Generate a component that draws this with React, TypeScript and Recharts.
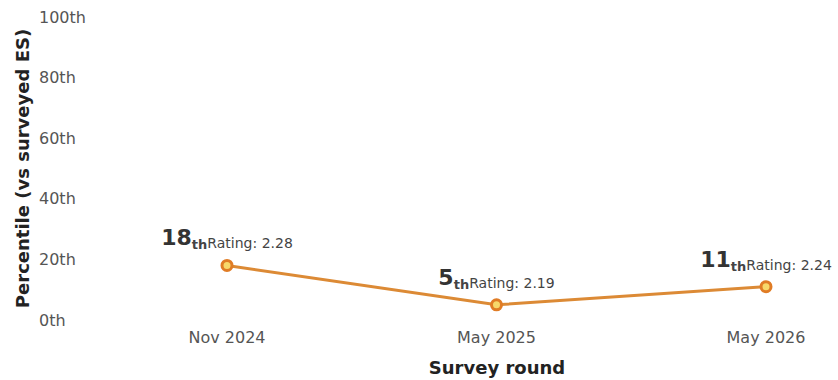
import React from "react";
import { LineChart, Line, XAxis, YAxis, LabelList } from "recharts";

const rounds = ["Nov 2024", "May 2025", "May 2026"];
const percentiles = [18, 5, 11];
const ratings = ["2.28", "2.19", "2.24"];
const yTicks = [0, 20, 40, 60, 80, 100];

const data = rounds.map((r, i) => ({ round: r, pct: percentiles[i], rating: ratings[i] }));

const FONT = "'DejaVu Sans', sans-serif";

const YTick = (props: any) => {
  const { x, y, payload } = props;
  return (
    <text x={x - 43} y={y} dy="0.35em" textAnchor="start" fontFamily={FONT} fontSize={16} fill="#555">
      {payload.value}th
    </text>
  );
};

const XTick = (props: any) => {
  const { x, y, payload } = props;
  return (
    <text x={x} y={y} dy="0.71em" textAnchor="middle" fontFamily={FONT} fontSize={16} fill="#555">
      {payload.value}
    </text>
  );
};

const PointLabel = (props: any) => {
  const { x, y, index } = props;
  const d = data[index];
  return (
    <text x={x} y={y - 20} textAnchor="middle" fontFamily={FONT} fill="#444">
      <tspan fontSize={22} fontWeight="bold" fill="#333">{d.pct}</tspan>
      <tspan fontSize={13} fontWeight="bold" dy={4}>th</tspan>
      <tspan fontSize={14} dy={-1}>Rating: {d.rating}</tspan>
    </text>
  );
};

const YTitle = (props: any) => {
  const { viewBox } = props;
  const cx = viewBox.x + 22;
  const cy = viewBox.y + viewBox.height / 2;
  return (
    <text x={cx} y={cy} transform={`rotate(-90, ${cx}, ${cy})`} textAnchor="middle" dominantBaseline="central"
      fontFamily={FONT} fontSize={18} fontWeight="bold" fill="#222">
      Percentile (vs surveyed ES)
    </text>
  );
};

const XTitle = (props: any) => {
  const { viewBox } = props;
  const cx = 497;
  return (
    <text x={cx} y={viewBox.y + 47} textAnchor="middle" dominantBaseline="central"
      fontFamily={FONT} fontSize={18} fontWeight="bold" fill="#222">
      Survey round
    </text>
  );
};

export default function App() {
  return (
    <div style={{ position: "absolute", left: 0, top: 0, background: "#fff" }}>
      <LineChart width={838} height={380} data={data} margin={{ top: 17, right: 0, bottom: 0, left: 0 }}>
        <XAxis
          dataKey="round"
          height={60}
          axisLine={false}
          tickLine={false}
          tickMargin={6}
          padding={{ left: 137, right: 72 }}
          tick={<XTick />}
          label={<XTitle />}
        />
        <YAxis
          width={90}
          domain={[0, 100]}
          ticks={yTicks}
          axisLine={false}
          tickLine={false}
          tick={<YTick />}
          label={<YTitle />}
        />
        <Line
          type="linear"
          dataKey="pct"
          stroke="#dc8a35"
          strokeWidth={3}
          dot={{ r: 5, stroke: "#e07c25", strokeWidth: 3, fill: "#f7d86a" }}
          isAnimationActive={false}
        >
          <LabelList dataKey="pct" content={<PointLabel />} />
        </Line>
      </LineChart>
    </div>
  );
}
